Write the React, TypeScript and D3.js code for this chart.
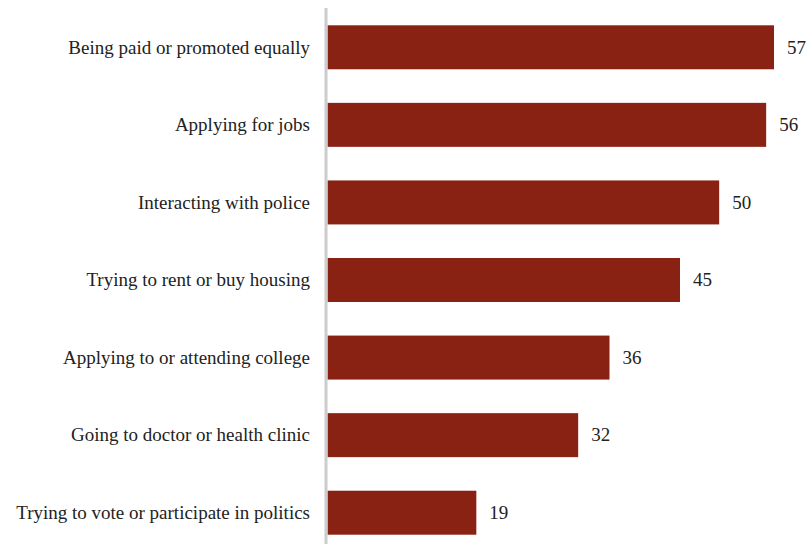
import React from "react";
import * as d3 from "d3";

const categories = [
  "Being paid or promoted equally",
  "Applying for jobs",
  "Interacting with police",
  "Trying to rent or buy housing",
  "Applying to or attending college",
  "Going to doctor or health clinic",
  "Trying to vote or participate in politics",
];
const values = [57, 56, 50, 45, 36, 32, 19];

const W = 807;
const H = 544;
const x0 = 327.5;

export default function App() {
  const x = d3.scaleLinear().domain([0, 57]).range([x0, 774]);
  const y = d3
    .scaleBand<string>()
    .domain(categories)
    .range([8.5, 551.5])
    .paddingInner(0.433)
    .paddingOuter(0.2165);
  return (
    <svg
      width={W}
      height={H}
      style={{ position: "absolute", left: 0, top: 0, background: "#fff" }}
    >
      <g
        style={{
          fontFamily:
            '"Liberation Serif", "Times New Roman", Times, Tinos, "Nimbus Roman", FreeSerif, serif',
          fontSize: "19px",
        }}
      >
        {categories.map((c, i) => {
          const yy = y(c)!;
          const bw = y.bandwidth();
          return (
            <g key={c}>
              <rect
                x={x0}
                y={yy}
                width={x(values[i]) - x0}
                height={bw}
                fill="#8a2213"
              />
              <text
                x={310}
                y={yy + bw / 2}
                dy="0.33em"
                textAnchor="end"
                fill="#222"
              >
                {c}
              </text>
              <text
                x={x(values[i]) + 13}
                y={yy + bw / 2}
                dy="0.33em"
                textAnchor="start"
                fill="#222"
              >
                {values[i]}
              </text>
            </g>
          );
        })}
      </g>
      <line x1={326} x2={326} y1={8} y2={H} stroke="#cccccc" strokeWidth={3} />
    </svg>
  );
}
